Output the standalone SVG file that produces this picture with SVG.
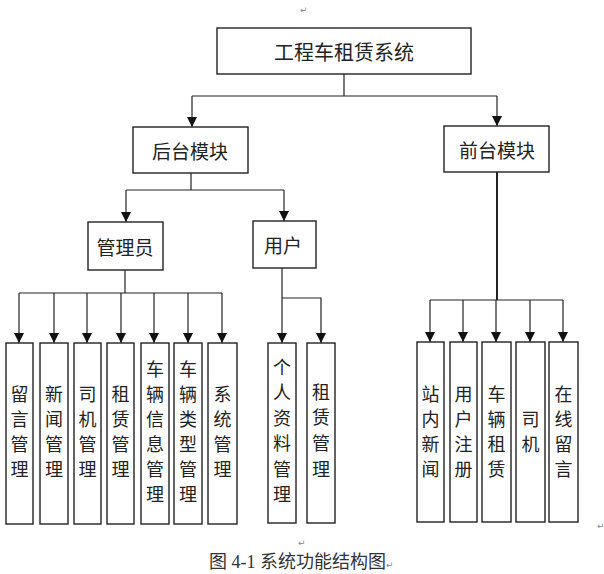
<svg xmlns="http://www.w3.org/2000/svg" width="604" height="574" viewBox="0 0 604 574">
<style>
.box{fill:#fff;stroke:#222;stroke-width:1.4}
.t{font-family:"Noto Sans CJK SC","Noto Sans CJK TC",sans-serif;font-size:19px;fill:#222;text-anchor:middle;dominant-baseline:central}
.tt{font-size:20px}
.v{font-size:18px}
.c{fill:none;stroke:#222;stroke-width:1.2}
.a{fill:none;stroke:#222;stroke-width:1.2;marker-end:url(#ah)}
.thick{stroke-width:2}
.pm{font-family:"DejaVu Sans",sans-serif;font-size:9px;fill:#888}
.cap{font-family:"Liberation Serif","Noto Sans CJK SC",serif;font-size:18px;fill:#333}
</style>
<defs>
<marker id="ah" markerUnits="userSpaceOnUse" markerWidth="11" markerHeight="10" refX="10" refY="5" orient="auto" viewBox="0 0 11 10">
<path d="M0 0 L10 5 L0 10 Z" fill="#111"/>
</marker>
</defs>
<rect width="604" height="574" fill="#fff"/>
<text class="pm" x="300" y="13">↵</text>
<g id="connectors">
<path class="c" d="M344 74 V96 M192 96 H497"/>
<path class="a" d="M192 96 V127"/>
<path class="a" d="M497 96 V126"/>
<path class="c" d="M191 173 V190 M126 190 H284"/>
<path class="a" d="M126 190 V222"/>
<path class="a" d="M284 190 V221"/>
<path class="c" d="M125 270 V293 M19 293 H222"/>
<path class="a" d="M19 293 V343"/>
<path class="a" d="M54 293 V343"/>
<path class="a" d="M87 293 V343"/>
<path class="a" d="M121 293 V343"/>
<path class="a" d="M154 293 V343"/>
<path class="a" d="M188 293 V343"/>
<path class="a" d="M222 293 V343"/>
<path class="a" d="M282 268 V343"/>
<path class="a" d="M282 298 H321 V343"/>
<path class="c thick" d="M497 172 V300"/>
<path class="c" d="M430 300 H563"/>
<path class="a" d="M430 300 V342"/>
<path class="a" d="M463 300 V342"/>
<path class="a" d="M496 300 V342"/>
<path class="a" d="M530 300 V342"/>
<path class="a" d="M563 300 V342"/>
</g>
<g id="root"><rect class="box" x="217" y="28" width="254" height="46"/><text class="t tt" x="344" y="51">工程车租赁系统</text></g>
<g id="backend"><rect class="box" x="133" y="127" width="115" height="46"/><text class="t" x="190" y="150">后台模块</text></g>
<g id="frontend"><rect class="box" x="444" y="126" width="105" height="46"/><text class="t" x="497" y="149">前台模块</text></g>
<g id="admin"><rect class="box" x="88" y="222" width="75" height="48"/><text class="t" x="125" y="246">管理员</text></g>
<g id="user"><rect class="box" x="253" y="221" width="63" height="47"/><text class="t" x="283" y="244">用户</text></g>
<g id="a1"><rect class="box" x="6" y="343" width="27" height="181"/><text class="t v"><tspan x="19.5" y="393">留</tspan><tspan x="19.5" y="418">言</tspan><tspan x="19.5" y="443">管</tspan><tspan x="19.5" y="468">理</tspan></text></g>
<g id="a2"><rect class="box" x="40" y="343" width="28" height="181"/><text class="t v"><tspan x="54" y="393">新</tspan><tspan x="54" y="418">闻</tspan><tspan x="54" y="443">管</tspan><tspan x="54" y="468">理</tspan></text></g>
<g id="a3"><rect class="box" x="74" y="343" width="27" height="181"/><text class="t v"><tspan x="87.5" y="393">司</tspan><tspan x="87.5" y="418">机</tspan><tspan x="87.5" y="443">管</tspan><tspan x="87.5" y="468">理</tspan></text></g>
<g id="a4"><rect class="box" x="107" y="343" width="27" height="181"/><text class="t v"><tspan x="120.5" y="393">租</tspan><tspan x="120.5" y="418">赁</tspan><tspan x="120.5" y="443">管</tspan><tspan x="120.5" y="468">理</tspan></text></g>
<g id="a5"><rect class="box" x="141" y="343" width="28" height="181"/><text class="t v"><tspan x="155" y="368">车</tspan><tspan x="155" y="393">辆</tspan><tspan x="155" y="418">信</tspan><tspan x="155" y="443">息</tspan><tspan x="155" y="468">管</tspan><tspan x="155" y="493">理</tspan></text></g>
<g id="a6"><rect class="box" x="174" y="343" width="28" height="181"/><text class="t v"><tspan x="188" y="368">车</tspan><tspan x="188" y="393">辆</tspan><tspan x="188" y="418">类</tspan><tspan x="188" y="443">型</tspan><tspan x="188" y="468">管</tspan><tspan x="188" y="493">理</tspan></text></g>
<g id="a7"><rect class="box" x="208" y="343" width="29" height="181"/><text class="t v"><tspan x="222.5" y="393">系</tspan><tspan x="222.5" y="418">统</tspan><tspan x="222.5" y="443">管</tspan><tspan x="222.5" y="468">理</tspan></text></g>
<g id="u1"><rect class="box" x="268" y="343" width="28" height="180"/><text class="t v"><tspan x="282" y="366">个</tspan><tspan x="282" y="391">人</tspan><tspan x="282" y="417">资</tspan><tspan x="282" y="442">料</tspan><tspan x="282" y="468">管</tspan><tspan x="282" y="493">理</tspan></text></g>
<g id="u2"><rect class="box" x="307" y="343" width="28" height="180"/><text class="t v"><tspan x="321" y="391">租</tspan><tspan x="321" y="416">赁</tspan><tspan x="321" y="442">管</tspan><tspan x="321" y="468">理</tspan></text></g>
<g id="f1"><rect class="box" x="417" y="342" width="27" height="180"/><text class="t v"><tspan x="430.5" y="393">站</tspan><tspan x="430.5" y="418">内</tspan><tspan x="430.5" y="443">新</tspan><tspan x="430.5" y="468">闻</tspan></text></g>
<g id="f2"><rect class="box" x="450" y="342" width="27" height="180"/><text class="t v"><tspan x="463.5" y="393">用</tspan><tspan x="463.5" y="418">户</tspan><tspan x="463.5" y="443">注</tspan><tspan x="463.5" y="468">册</tspan></text></g>
<g id="f3"><rect class="box" x="482" y="342" width="29" height="180"/><text class="t v"><tspan x="496.5" y="393">车</tspan><tspan x="496.5" y="418">辆</tspan><tspan x="496.5" y="443">租</tspan><tspan x="496.5" y="468">赁</tspan></text></g>
<g id="f4"><rect class="box" x="516" y="342" width="29" height="180"/><text class="t v"><tspan x="530.5" y="418">司</tspan><tspan x="530.5" y="443">机</tspan></text></g>
<g id="f5"><rect class="box" x="549" y="342" width="29" height="180"/><text class="t v"><tspan x="563.5" y="393">在</tspan><tspan x="563.5" y="418">线</tspan><tspan x="563.5" y="443">留</tspan><tspan x="563.5" y="468">言</tspan></text></g>
<text class="pm" x="597" y="529">↵</text>
<text class="pm" x="298" y="546">↵</text>
<text class="cap" x="209" y="568">图 4-1 系统功能结构图<tspan class="pm">↵</tspan></text>
</svg>
